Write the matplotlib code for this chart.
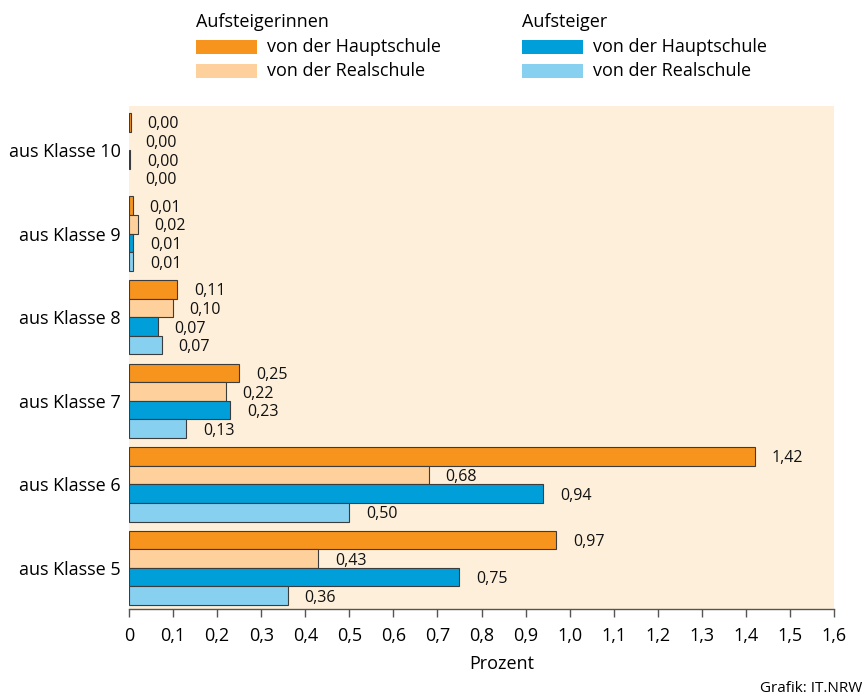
import matplotlib
matplotlib.use("Agg")
import matplotlib.pyplot as plt
import numpy as np
from matplotlib.patches import Rectangle

plt.rcParams['font.family'] = ['Open Sans', 'DejaVu Sans']

categories = ["aus Klasse 5", "aus Klasse 6", "aus Klasse 7", "aus Klasse 8", "aus Klasse 9", "aus Klasse 10"]
girls_haupt = [0.97, 1.42, 0.25, 0.11, 0.009, 0.004]
girls_real = [0.43, 0.68, 0.22, 0.10, 0.02, 0.0]
boys_haupt = [0.75, 0.94, 0.23, 0.066, 0.01, 0.003]
boys_real = [0.36, 0.50, 0.13, 0.074, 0.01, 0.0]
xticks = [0, 0.1, 0.2, 0.3, 0.4, 0.5, 0.6, 0.7, 0.8, 0.9, 1.0, 1.1, 1.2, 1.3, 1.4, 1.5, 1.6]
xticklabels = ["0", "0,1", "0,2", "0,3", "0,4", "0,5", "0,6", "0,7", "0,8", "0,9", "1,0",
               "1,1", "1,2", "1,3", "1,4", "1,5", "1,6"]

c_gh = "#F7941D"
c_gr = "#FED09C"
c_bh = "#009FDA"
c_br = "#88D0F0"
bg = "#FDEFD9"
edge = "#3C3C3C"

W, H = 867, 699
fig = plt.figure(figsize=(W / 100, H / 100), dpi=100)
ax = fig.add_axes([129 / W, 1 - 609 / H, (834 - 129) / W, (609 - 106) / H])
ax.set_facecolor(bg)

h = 0.223
y = np.arange(len(categories))
series = [(girls_haupt, c_gh, 1.5), (girls_real, c_gr, 0.5), (boys_haupt, c_bh, -0.5), (boys_real, c_br, -1.5)]
for vals, col, off in series:
    ys = y + off * h
    edges = [edge if v > 0 else "none" for v in vals]
    ax.barh(ys, vals, height=h, color=col, edgecolor=edges, linewidth=0.8)
    for v, yy in zip(vals, ys):
        ax.annotate(f"{v:.2f}".replace(".", ","), xy=(v, yy), xytext=(12, -1.5),
                    textcoords="offset points", va="center", ha="left", fontsize=11.5,
                    color="#111111")

ax.set_xlim(0, 1.6)
ax.set_ylim(-0.493, 5.529)
ax.set_xticks(xticks)
ax.set_xticklabels(xticklabels, fontsize=13)
ax.set_yticks(y)
ax.set_yticklabels(categories, fontsize=13)
ax.tick_params(axis="y", length=0, pad=6)
ax.tick_params(axis="x", length=6, width=1, color="#555555", pad=7, direction="out")
for s in ["top", "right", "left"]:
    ax.spines[s].set_visible(False)
ax.spines["bottom"].set_color("#555555")
ax.spines["bottom"].set_linewidth(1)

fig.text(502 / W, 1 - 664 / H, "Prozent", ha="center", va="center", fontsize=13)
fig.text(862 / W, 1 - 688 / H, "Grafik: IT.NRW", ha="right", va="center", fontsize=11)

# legend
def legend_col(x0, title, c1, c2):
    fig.text(x0 / W, 1 - 22 / H, title, ha="left", va="center", fontsize=13)
    for yc, col, lab in [(47, c1, "von der Hauptschule"), (71, c2, "von der Realschule")]:
        fig.patches.append(Rectangle((x0 / W, 1 - (yc + 7) / H), 61 / W, 14 / H,
                                     transform=fig.transFigure, facecolor=col, edgecolor="none"))
        fig.text((x0 + 71) / W, 1 - yc / H, lab, ha="left", va="center", fontsize=13)

legend_col(196, "Aufsteigerinnen", c_gh, c_gr)
legend_col(522, "Aufsteiger", c_bh, c_br)

fig.savefig("out.png", dpi=100)
